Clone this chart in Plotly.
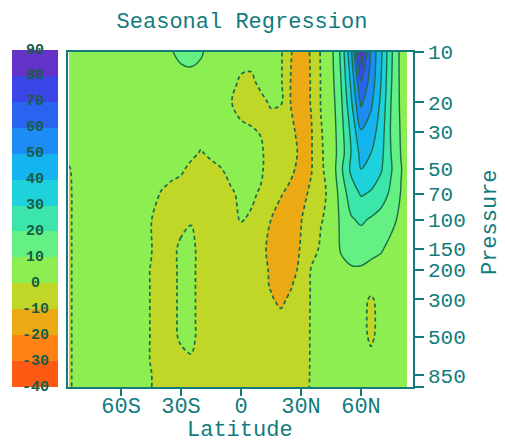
import plotly.graph_objects as go

# ---------------- data ----------------
lats = [-86, -80, -75, -70, -65, -60, -55, -50, -45, -40, -35, -30, -25, -20, -15, -10,
        -5, 0, 5, 10, 15, 20, 25, 30, 35, 40, 45, 50, 55, 60, 65, 70, 75, 80, 83]
pressures = [10, 15, 20, 30, 40, 50, 70, 100, 150, 200, 250, 300, 400, 500, 700, 850, 1000]

regression = [
    # p = 10
    [3, 4, 4, 4, 4, 4, 4, 4.5, 5, 6, 9.5, 12, 13, 11, 7, 5, 4, 3, 3, 4, 4, 1, -9.5, -16, -9, 1, 7, 22, 48, 88, 58, 42, 22, 7, 4],
    # p = 15
    [3.5, 4, 4, 4, 4, 4, 4, 4, 4.5, 5, 6, 7, 7, 6.5, 5, 4, 2, -1, -1.5, 2, 3, 1, -10.5, -16, -9.5, 0.5, 6, 20, 42, 70, 56, 40, 21, 7.5, 4],
    # p = 20
    [3.5, 4, 4, 4, 4, 4, 4, 4, 4, 4.5, 5, 5.5, 5.5, 5, 4, 3, 0.3, -3, -4, -2, 1, 0.8, -10.5, -16, -9.5, 0.5, 5, 18, 38, 62, 52, 38, 20, 8, 4],
    # p = 30
    [3, 4, 4, 4, 4, 4, 4, 4, 4, 4, 4, 3.5, 3, 2.5, 3, 4, 3, 2, 1, -0.5, -4, -6, -8, -13, -11, -0.5, 4, 16, 32, 49, 45, 35, 19, 9, 5],
    # p = 40
    [2, 3.5, 4, 4, 4, 4, 4, 3.5, 3.5, 3.5, 3, 2.5, 1.5, -0.5, 1.5, 3, 3, 2.5, 2, 1.5, -5, -7, -7.5, -11.5, -11, -1, 4, 15, 30, 43, 40, 33, 20, 9.5, 5],
    # p = 50
    [-0.5, 3.5, 4, 4, 4, 4, 3.5, 3, 3, 2.5, 2, 1, -1.5, -2.5, -2, -0.3, 2.5, 2.5, 2, 1.5, -5.5, -7, -8.5, -12.5, -11, -1, 3, 18, 32, 40, 36, 31, 21, 10.5, 6],
    # p = 70
    [-1, 3.5, 4, 4, 4, 4, 3.5, 3.5, 2, -0.3, -2, -3, -3.5, -4, -4, -3, -1, 1.5, 1.5, -1, -7, -9.5, -12, -13.5, -8, -2, 2, 14, 25, 31, 29, 25, 18, 9.5, 6],
    # p = 100
    [-1, 3.5, 4, 4, 4, 3.5, 3, 2, 0.2, -2.5, -3, -1.5, -0.3, -2.5, -4, -4, -2, 0.5, -1, -5, -10, -13, -15, -10.5, -4, -0.5, 2.5, 12, 19, 21.5, 19, 16, 13, 7.5, 5],
    # p = 150
    [-1, 3.5, 4, 4, 4, 3.5, 3, 2, 0.3, -3, -1.5, 1, 1.2, -1.5, -4, -5, -5, -5, -6, -8.5, -11.5, -15, -16, -9, -4, 1.5, 3, 11, 13.5, 14, 13, 11, 7, 5, 4],
    # p = 200
    [-1, 3.5, 4, 4, 4, 3.5, 3, 1.5, -0.2, -3.5, -1.5, 1, 1.2, -1.5, -4, -5.5, -6, -6, -7, -7.5, -11, -15, -13, -8, 0.5, 3, 3.5, 7, 9, 9, 7, 6, 5, 4, 3.5],
    # p = 250
    [-1, 3.5, 4, 4, 4, 3.5, 3, 1.5, -0.2, -3.5, -1.5, 1, 1.2, -1.5, -4, -5.5, -6, -6, -6.5, -8, -10.5, -13, -10.5, -6, 0.5, 3, 3, 4, 5, 4, 2, 3, 3.5, 3.5, 3],
    # p = 300
    [-1, 3.5, 4, 4, 4, 3.5, 3, 1.5, -0.2, -3.5, -1.5, 1, 1.2, -1.5, -4, -5, -5.5, -5.5, -6, -7, -9.3, -11.5, -8.5, -5, 0.5, 3, 3, 4, 4, 2, -0.8, 2, 3.5, 3.5, 3],
    # p = 400
    [-1, 3.5, 4, 4, 4, 3.5, 3, 1.5, -0.2, -3.5, -1.5, 1, 1.2, -1.5, -3.5, -4.5, -5, -5, -5.5, -6, -7, -8, -6.5, -4, 0.5, 3, 3.5, 4, 4, 2, -1.5, 2, 3.5, 3.5, 3],
    # p = 500
    [-1, 3.5, 4, 4, 4, 3.5, 3, 1.5, -0.2, -3, -1.5, 0.8, 1.2, -1.5, -3.5, -4.5, -5, -5, -5, -5.5, -6, -6.5, -5.5, -3.5, 0.5, 3, 3.5, 4, 4, 2, -1, 2, 3.5, 3.5, 3],
    # p = 700
    [-1, 3.5, 4, 4, 4, 3.5, 3, 1.5, -0.2, -3, -2.5, -1.5, -0.5, -2, -3.5, -4.5, -5, -5, -5, -5, -5.5, -6, -5, -3.5, 0.5, 3, 3.5, 4, 4, 3, 1.5, 3, 3.5, 3.5, 3],
    # p = 850
    [-1, 3.5, 4, 4, 4, 3.5, 3, 2, 0.2, -2.5, -3, -3, -3, -3, -3.5, -4, -4.5, -4.5, -4.5, -4.5, -5, -5, -4.5, -3, 0.5, 3, 3.5, 4, 4, 3.5, 3.5, 3.5, 3.5, 3.5, 3],
    # p = 1000
    [-1, 3.5, 4, 4, 4, 3.5, 3, 2, 0.2, -2.5, -3, -3, -3, -3, -3.5, -4, -4.5, -4.5, -4.5, -4.5, -4.5, -4.5, -4, -2.5, 0.5, 3, 3.5, 4, 4, 3.5, 3.5, 3.5, 3.5, 3.5, 3],
]

levels = [-40, -30, -20, -10, 0, 10, 20, 30, 40, 50, 60, 70, 80, 90]
band_colors = ['#ff5a14', '#ff8214', '#ebaa14', '#c0d728', '#8cee50', '#64f082', '#3ce6aa',
               '#1ed2dc', '#14b4f0', '#1e8cf5', '#2864f0', '#3c46e6', '#6432c8']

lat_ticks = [-60, -30, 0, 30, 60]
lat_labels = ['60S', '30S', '0', '30N', '60N']
p_ticks = [10, 20, 30, 50, 70, 100, 150, 200, 300, 500, 850, 1000]
p_labels = ['10', '20', '30', '50', '70', '100', '150', '200', '300', '500', '850', '']

title_text = 'Seasonal Regression'
x_title = 'Latitude'
y_title = 'Pressure'

# ---------------- styling ----------------
TEAL = '#127c7c'
LINE = '#1b6e48'
MONO = 'Liberation Mono, Courier New, monospace'
step = levels[1] - levels[0]
nb = len(band_colors)

fill_nodes = [band_colors[0]] + band_colors + [band_colors[-1]]
fill_scale = [[k / (len(fill_nodes) - 1), c] for k, c in enumerate(fill_nodes)]
bar_scale = [[k / (nb - 1), c] for k, c in enumerate(band_colors)]

fig = go.Figure()

fig.add_trace(go.Contour(
    x=lats, y=pressures, z=regression,
    autocontour=False,
    contours=dict(start=levels[0], end=levels[-1], size=step, coloring='fill', showlines=False),
    colorscale=fill_scale, showscale=False, line=dict(width=0),
    hoverinfo='skip', xaxis='x', yaxis='y'))

# positive contours: solid
fig.add_trace(go.Contour(
    x=lats, y=pressures, z=regression,
    autocontour=False,
    contours=dict(start=10, end=levels[-1], size=step, coloring='none'),
    line=dict(color=LINE, width=1.4, dash='solid'),
    showscale=False, hoverinfo='skip', xaxis='x', yaxis='y'))

# zero and negative contours: dashed
fig.add_trace(go.Contour(
    x=lats, y=pressures, z=regression,
    autocontour=False,
    contours=dict(start=levels[0], end=0, size=step, coloring='none'),
    line=dict(color=LINE, width=1.7, dash='4px,3px'),
    showscale=False, hoverinfo='skip', xaxis='x', yaxis='y'))

# colour key as a column of bands
mids = [(levels[i] + levels[i + 1]) / 2 for i in range(nb)]
fig.add_trace(go.Heatmap(
    x=[0], y=mids, z=[[i] for i in range(nb)],
    colorscale=bar_scale, zmin=0, zmax=nb - 1, showscale=False,
    hoverinfo='skip', xaxis='x2', yaxis='y2'))

annotations = [dict(x=0, y=v, xref='x2', yref='y2', text=str(v), showarrow=False,
                    xanchor='center', yanchor='middle',
                    font=dict(family=MONO, size=15, color='#175e44', weight='bold'))
               for v in levels]
# axis titles
annotations.append(dict(x=0.5698, y=-0.13, xref='paper', yref='paper',
                        text=x_title, showarrow=False, xanchor='center', yanchor='middle',
                        font=dict(family=MONO, size=22, color=TEAL)))
annotations.append(dict(x=1.195, y=0.49, xref='paper', yref='paper',
                        text=y_title, showarrow=False, textangle=-90,
                        xanchor='center', yanchor='middle',
                        font=dict(family=MONO, size=22, color=TEAL)))

fig.update_layout(
    width=505, height=446,
    margin=dict(l=12, r=92, t=50, b=59, autoexpand=False),
    paper_bgcolor='white', plot_bgcolor='white',
    showlegend=False,
    title=dict(text=title_text, x=0.5736, xref='paper', xanchor='center',
               y=0.955, yref='container', yanchor='middle',
               font=dict(family=MONO, size=22, color=TEAL)),
    xaxis=dict(domain=[0.1397, 1], anchor='y', range=[-86.5, 86], automargin=False,
               tickvals=lat_ticks, ticktext=lat_labels,
               ticks='outside', ticklen=7, tickcolor=TEAL, tickwidth=1.5,
               ticklabelstandoff=-9,
               showline=True, linecolor=TEAL, linewidth=1.5, mirror=True,
               showgrid=False, zeroline=False,
               tickfont=dict(family=MONO, size=22, color=TEAL)),
    yaxis=dict(domain=[0, 0.994], anchor='x', side='right', type='log', automargin=False,
               range=[3, 1],
               tickvals=p_ticks, ticktext=p_labels,
               ticks='outside', ticklen=9, tickcolor=TEAL, tickwidth=1.5,
               showline=True, linecolor=TEAL, linewidth=1.5, mirror=True,
               showgrid=False, zeroline=False,
               tickfont=dict(family=MONO, size=21, color=TEAL)),
    xaxis2=dict(domain=[0, 0.1147], anchor='y2', range=[-0.5, 0.5], visible=False, fixedrange=True),
    yaxis2=dict(domain=[0, 1], anchor='x2', range=[levels[0], levels[-1]], visible=False, fixedrange=True),
    annotations=annotations,
)

fig.write_html('out.html')
